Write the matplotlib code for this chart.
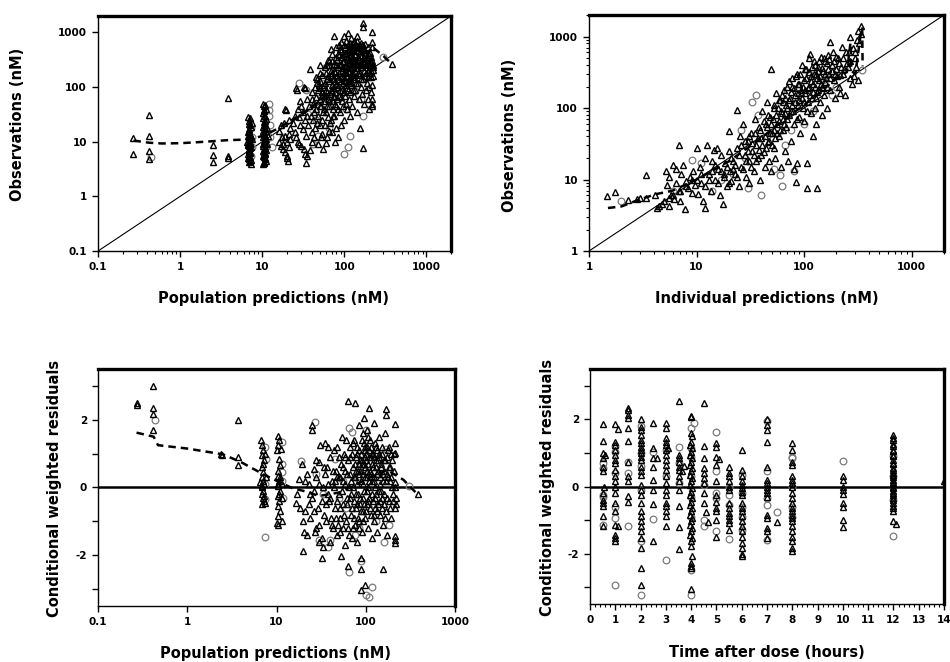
import numpy as np
import matplotlib
matplotlib.use('Agg')
import matplotlib.pyplot as plt
from matplotlib.ticker import FixedLocator, NullFormatter, LogLocator, MultipleLocator

plt.rcParams['font.family'] = ['DejaVu Sans']
plt.rcParams['font.weight'] = 'bold'

# ---------------- panel 1: observations vs population predictions ----------------
p1_tri = np.array([
    (0.27, 11.5), (0.27, 5.9), (0.42, 31), (0.42, 13), (0.42, 6.8), (0.42, 4.8),
    (2.5, 8.7), (2.5, 5.7), (2.5, 4.3), (3.8, 64), (3.8, 5.5), (3.85, 5.1),
    (6.8, 28), (7.2, 27), (7.0, 24), (6.9, 21), (7.3, 19), (7.0, 17), (6.8, 15), (7.4, 13),
    (7.0, 12), (6.9, 11), (7.2, 10), (7.0, 9.3), (6.8, 8.6), (7.3, 8), (7.0, 7.4), (6.9, 6.8),
    (7.2, 6.2), (7.0, 5.6), (6.8, 5.1), (7.3, 4.6), (7.0, 4.2), (7.4, 3.9), (7.6, 22), (7.5, 11), (6.6, 9.8),
    (7.1, 20), (6.9, 16), (7.2, 14), (6.7, 12.5), (7.1, 11.5), (6.9, 10.5), (7.2, 9.6), (6.8, 9),
    (7.0, 8.2), (7.2, 7.6), (6.9, 7), (7.1, 6.4), (6.8, 5.9), (7.2, 5.3), (6.9, 4.8), (7.1, 4.4),
    (10.3, 50), (10.8, 48), (10.5, 45), (11, 40), (10.2, 33), (10.6, 29), (11.2, 26), (10.4, 23),
    (10.9, 21), (10.2, 19), (10.7, 17), (11.1, 15.5), (10.4, 14), (10.8, 13), (10.3, 12), (11.0, 11),
    (10.5, 10), (10.9, 9.2), (10.3, 8.5), (10.7, 7.8), (11.2, 7.2), (10.4, 6.6), (10.8, 6), (10.3, 5.5),
    (10.7, 5), (11.0, 4.5), (10.5, 4.1), (10.2, 3.9), (11.5, 18), (11.8, 13), (11.6, 9),
    (10.6, 38), (10.4, 36), (10.9, 30), (10.3, 27), (10.7, 24), (10.5, 20), (10.9, 18), (10.3, 16),
    (10.6, 15), (10.8, 11.5), (10.4, 10.5), (10.7, 9.6), (10.3, 9), (10.9, 8), (10.5, 7.4),
    (10.2, 6.9), (10.8, 6.3), (10.4, 5.8), (10.6, 5.2), (10.9, 4.8), (10.4, 4.3),
    (16, 16), (17, 20), (17.5, 12), (18, 9), (18.5, 22), (19, 40), (19.5, 38), (18, 7.5), (19, 6.5),
    (20, 5.5), (20, 5), (20.5, 4.5), (21, 14), (21, 25), (22, 18), (22, 11), (17, 8.5), (19, 13),
    (20, 10), (21, 8), (16, 10),
    (24, 22), (25, 15), (26, 95), (26.5, 88), (27, 40), (27, 10), (28, 28), (29, 20), (30, 8.5),
    (30, 45), (31, 35), (32, 100), (32, 7.5), (33, 95), (33, 6), (34, 13), (34, 4), (35, 30),
    (35, 5.5), (25, 30), (29, 55), (31, 17), (33, 25), (35, 60), (26, 12), (28, 9),
    (38, 213), (38, 7), (40, 80), (40, 15), (40, 10), (42, 25), (42, 50), (44, 100), (45, 40),
    (45, 65), (47, 140), (48, 30), (48, 9), (50, 60), (50, 130), (50, 20), (52, 45), (52, 12),
    (54, 170), (54, 80), (55, 7.5), (55, 35), (44, 18), (46, 120), (37, 45), (39, 30), (43, 12),
    (53, 25), (51, 95), (49, 110), (36, 20),
    (58, 120), (58, 20), (60, 90), (60, 35), (60, 9.5), (61, 250), (62, 12), (63, 160), (64, 60),
    (65, 45), (66, 300), (67, 75), (68, 500), (68, 25), (70, 110), (70, 15), (71, 180), (72, 55),
    (73, 40), (74, 860), (74, 200), (75, 140), (76, 30), (77, 10), (78, 80), (79, 350), (80, 250),
    (80, 18), (57, 70), (59, 55), (62, 140), (64, 28), (66, 16), (69, 200), (72, 95), (76, 65),
    (78, 130), (80, 45),
    (82, 170), (83, 400), (84, 12), (85, 100), (86, 600), (87, 70), (88, 250), (89, 35), (90, 150),
    (90, 20), (92, 450), (93, 200), (94, 55), (95, 90), (96, 300), (97, 120), (98, 600), (99, 25),
    (100, 180), (100, 80), (102, 400), (103, 130), (104, 50), (105, 250), (106, 700), (107, 160),
    (108, 40), (109, 95), (110, 350), (111, 960), (112, 200), (113, 60), (114, 120), (115, 500),
    (116, 30), (117, 270), (118, 150), (119, 80), (120, 600), (120, 220),
    (122, 110), (124, 350), (125, 45), (127, 180), (128, 500), (130, 260), (131, 70), (133, 140),
    (135, 400), (136, 90), (138, 600), (140, 220), (141, 35), (143, 858), (144, 300), (146, 120),
    (148, 550), (150, 170), (152, 60), (154, 18), (155, 380), (157, 250), (158, 100), (160, 450),
    (162, 140), (165, 600), (166, 75), (169, 1520), (169, 1280), (169, 7.6), (170, 300), (172, 200),
    (175, 50), (178, 420), (180, 160), (183, 90), (185, 250), (188, 350), (190, 120), (193, 60),
    (195, 200), (198, 280), (200, 40), (202, 100), (205, 230), (210, 150), (215, 1000), (215, 675),
    (215, 545), (215, 60), (218, 50), (220, 45), (222, 230), (225, 210), (212, 80), (208, 300),
    (385, 264),
    (41, 60), (43, 35), (45, 150), (46, 22), (48, 90), (50, 45), (51, 180), (53, 70), (54, 14),
    (56, 110), (57, 40), (59, 230), (61, 80), (62, 45), (63, 320), (65, 130), (66, 55), (67, 22),
    (68, 170), (69, 90), (71, 400), (72, 30), (73, 140), (74, 70), (75, 260), (77, 190), (78, 50),
    (79, 110), (81, 320), (82, 60), (83, 230), (84, 140), (85, 40), (86, 380), (87, 180), (88, 90),
    (89, 500), (90, 270), (91, 130), (92, 65), (93, 350), (94, 160), (95, 220), (96, 45), (97, 420),
    (98, 180), (99, 130), (100, 300), (101, 550), (102, 240), (103, 70), (104, 190), (105, 420),
    (106, 110), (107, 330), (108, 230), (109, 160), (110, 600), (111, 280), (112, 90), (113, 450),
    (114, 190), (115, 310), (116, 140), (117, 650), (118, 230), (119, 360), (120, 120), (122, 480),
    (123, 260), (124, 170), (126, 620), (127, 340), (128, 90), (129, 230), (130, 450), (132, 150),
    (133, 300), (134, 550), (136, 200), (137, 380), (139, 120), (140, 480), (142, 260), (144, 700),
    (145, 180), (147, 350), (149, 450), (150, 250), (152, 600), (153, 320), (156, 180), (158, 520),
    (160, 280), (161, 650), (163, 380), (165, 230), (167, 480), (168, 140), (170, 580), (172, 350),
    (174, 260), (176, 500), (179, 300), (181, 620), (184, 180), (186, 420), (189, 260), (192, 340),
    (194, 550), (197, 150), (199, 380), (201, 260), (204, 420), (206, 180), (209, 280), (211, 350),
    (214, 200), (217, 300), (220, 110), (223, 160), (226, 250), (70, 300), (60, 180), (55, 100),
    (65, 250), (80, 550), (90, 680), (100, 850), (120, 800), (130, 700), (50, 250),
])
p1_circ = np.array([
    (0.44, 5.2), (7.3, 18), (7.5, 12), (7.6, 8), (7.4, 5.5), (12, 50), (12.2, 38), (12, 30),
    (12.4, 20), (12.6, 12), (13, 8), (18, 12), (28, 118), (34, 90), (40, 40), (45, 25), (52, 65),
    (60, 230), (65, 18), (70, 60), (82, 250), (88, 130), (95, 600), (100, 6), (110, 8), (118, 13),
    (125, 300), (135, 85), (150, 450), (160, 60), (170, 30), (300, 350), (180, 200), (105, 40),
    (75, 110), (55, 150), (48, 13), (42, 9),
])
p1_smooth_x = [0.27, 0.42, 0.6, 1, 2, 3.8, 7, 10.5, 15, 20, 30, 50, 80, 120, 170, 218, 302, 331, 380]
p1_smooth_y = [10.5, 9.6, 9.3, 9.4, 10, 10.7, 11, 13, 17, 22, 32, 55, 100, 170, 300, 546, 369, 320, 270]

# ---------------- panel 2: observations vs individual predictions ----------------
p2_tri = np.array([
    (1.46, 5.9), (1.76, 6.8), (2.3, 5.1), (2.8, 5.3), (3.0, 5.6), (3.4, 11.4), (3.4, 5.5), (4.1, 6),
    (4.3, 4), (4.5, 4.3), (4.8, 4.5), (5.0, 5.0), (5.2, 13), (5.3, 8.5), (5.5, 11), (5.6, 4.2),
    (5.8, 6), (6.0, 16), (6.2, 5.3), (6.4, 9), (6.5, 14), (6.8, 30), (6.8, 7), (7.0, 5), (7.2, 12),
    (7.5, 16), (7.8, 3.9), (8.0, 9.5), (8.3, 7.5), (8.6, 11), (9.0, 6.5), (9.3, 13), (9.6, 8.5),
    (10, 28), (10, 10), (10.3, 6.2), (10.7, 15), (11, 9), (11.5, 5), (12, 20), (12.1, 4), (12.6, 30),
    (13, 12), (13.5, 7), (14, 18), (14.5, 26), (15, 10), (15.5, 28), (16, 14), (16.5, 6), (17, 22),
    (17.7, 4.6), (18, 11), (18.5, 17), (19, 8), (20, 47), (20, 25), (20.5, 13), (21, 9.5), (22, 18),
    (23, 12), (23.7, 95), (24, 28), (25, 8), (25.5, 40), (26, 15), (27, 60), (28, 22), (29, 11),
    (30, 35), (30.5, 9), (31, 18), (32, 45), (33, 25), (34, 13), (35, 70), (36, 30), (37, 20),
    (38, 55), (39, 10), (40, 38), (41, 90), (42, 24), (43, 15), (44, 60), (45, 120), (46, 33),
    (47, 18), (48, 75), (49, 357), (49, 13), (50, 45), (52, 100), (53, 28), (54, 20), (55, 160),
    (56, 60), (58, 40), (60, 130), (61, 15), (62, 85), (64, 50), (65, 180), (66, 25), (68, 110),
    (70, 70), (71, 18), (72, 240), (74, 140), (75, 35), (76, 90), (78, 200), (80, 60), (80, 14),
    (82, 150), (84.5, 9.2), (85, 17), (86, 300), (87, 110), (89, 75), (90, 220), (92, 45), (94, 160),
    (95, 400), (97, 100), (99, 250), (100, 65), (102, 180), (104, 350), (106, 17), (106, 7.7),
    (108, 120), (110, 500), (112, 200), (114, 570), (115, 85), (117, 280), (119, 140), (120, 40),
    (122, 220), (124, 450), (126, 100), (128, 300), (130, 60), (131, 7.5), (133, 170), (135, 380),
    (137, 250), (140, 120), (143, 520), (146, 200), (148, 80), (150, 330), (153, 150), (156, 450),
    (160, 260), (163, 100), (166, 550), (170, 300), (175, 830), (175, 180), (180, 400), (185, 600),
    (190, 250), (195, 140), (200, 350), (205, 500), (210, 200), (215, 160), (220, 380), (225, 720),
    (230, 300), (240, 150), (250, 420), (260, 600), (270, 1000), (270, 260), (279, 214), (290, 280),
    (300, 600), (310, 900), (320, 250), (335, 1420), (340, 1100),
    (18, 12), (19, 15), (20, 9), (21, 20), (22, 14), (23, 16), (24, 11), (25, 22), (26, 30), (27, 14),
    (28, 35), (29, 18), (30, 25), (31, 40), (32, 15), (33, 32), (34, 22), (35, 45), (36, 18), (37, 38),
    (38, 26), (39, 50), (40, 22), (41, 30), (42, 65), (43, 40), (44, 28), (45, 55), (46, 80), (47, 35),
    (48, 45), (49, 60), (50, 30), (51, 70), (52, 50), (53, 110), (54, 38), (55, 80), (56, 45),
    (57, 100), (58, 65), (59, 130), (60, 50), (61, 90), (62, 150), (63, 70), (64, 120), (65, 60),
    (66, 85), (67, 140), (68, 55), (69, 200), (70, 100), (72, 130), (73, 80), (75, 170), (77, 110),
    (78, 260), (79, 90), (81, 190), (82, 120), (84, 280), (85, 70), (87, 160), (88, 220), (90, 130),
    (91, 300), (93, 180), (96, 140), (98, 200), (100, 120), (101, 350), (103, 160), (105, 260),
    (107, 90), (109, 190), (111, 320), (113, 150), (116, 240), (118, 380), (121, 170), (123, 300),
    (125, 200), (127, 400), (129, 140), (132, 260), (134, 330), (136, 180), (139, 450), (141, 280),
    (144, 220), (147, 360), (150, 190), (152, 500), (155, 300), (158, 230), (162, 420), (165, 200),
    (168, 350), (172, 480), (176, 260), (182, 330), (188, 450), (192, 300), (198, 520), (204, 280),
    (212, 430), (218, 290), (228, 500), (235, 350), (245, 600), (255, 380), (265, 450), (285, 700),
    (295, 500), (305, 380), (315, 1200), (325, 800), (12, 8), (13, 10), (14, 13), (15, 16), (16, 9),
    (17, 13), (11, 12), (9, 10), (8, 8), (7, 7), (6, 6), (5.5, 5.5),
])
p2_circ = np.array([
    (2.0, 5.0), (6, 7), (9, 19), (11, 17), (14, 7), (17, 10), (22, 12), (26, 50), (28, 20),
    (30, 7.7), (33, 120), (36, 150), (37, 80), (40, 6), (45, 40), (52, 14), (60, 11.5), (62, 8),
    (66, 30), (75, 50), (80, 13), (90, 120), (100, 60), (120, 90), (150, 250), (180, 150),
    (200, 200), (347, 340), (110, 300), (70, 180),
])
p2_smooth_x = [1.5, 2, 2.7, 4.1, 6, 10, 20, 40, 70, 100, 150, 200, 250, 270, 275, 300, 340, 347, 350]
p2_smooth_y = [4, 4.2, 5, 6.2, 7, 10, 18, 38, 75, 110, 180, 260, 320, 820, 330, 300, 1250, 1300, 385]

# ---------------- panel 3: CWRES vs population predictions ----------------
p3_tri = np.array([
    (0.27, 2.5), (0.27, 2.43), (0.41, 2.99), (0.41, 2.35), (0.41, 2.16), (0.41, 1.7), (2.4, 1.0),
    (2.45, 0.97), (3.7, 2.0), (3.7, 0.9), (3.7, 0.67),
    (6.7, 1.4), (6.9, 1.25), (7.0, 1.1), (6.8, 0.95), (7.2, 0.8), (6.9, 0.6), (7.1, 0.45), (6.8, 0.3),
    (7.0, 0.2), (7.3, 0.1), (6.6, 0.15), (6.9, 0.0), (7.1, -0.1), (6.8, -0.2), (7.0, -0.3), (7.2, -0.4),
    (6.9, -0.5), (7.4, -0.45), (7.6, 0.3), (7.5, 1.0), (7.0, 0.7), (6.8, 0.05), (7.2, -0.25),
    (10.3, 1.53), (10.6, 1.4), (10.4, 1.25), (10.2, 1.1), (10.8, 0.65), (10.5, 0.5), (10.3, 0.35),
    (10.7, 0.2), (10.4, 0.05), (10.9, -0.1), (10.3, -0.25), (10.6, -0.4), (10.4, -0.55), (10.8, -0.7),
    (10.2, -1.05), (10.5, -1.1), (11.5, -1.0), (11.2, 1.15), (11.0, 0.3), (11.4, -0.3), (11.6, 0.1),
    (10.6, 0.85), (10.4, -0.85), (10.7, -0.2), (10.5, 0.1),
    (16.7, -0.46), (17, -0.2), (18, 0.25), (18.5, -0.6), (19.7, -1.88), (19.5, 0.7), (20, -1.0),
    (20.5, -1.3), (21, 0.2), (21, -0.7), (22, -1.4), (23, 0.1), (24, -0.9), (24.9, 1.7), (24.9, 1.85),
    (25, -0.3), (26, 0.55), (27, -1.3), (28, 0.3), (29, -0.6), (30, 0.75), (30, -1.1), (31, 1.25),
    (32, -2.08), (32, -1.5), (33, 0.0), (34, -0.8), (35, 1.3), (35, 0.4), (33, -1.75), (30, -1.6),
    (28, -1.2), (26, -0.1), (23, -0.5),
    (36, -1.0), (37, 0.6), (38, 1.2), (39, -0.4), (40, -1.6), (40, 0.9), (42, 0.2), (43, -1.2),
    (44, 1.1), (45, -0.6), (46, 0.5), (47, -1.4), (48, 1.2), (50, -0.2), (50, 0.9), (51, -0.9),
    (52, 0.3), (53, -2.03), (54, 1.5), (55, -1.2), (55, 0.6), (56, -0.5), (57, 1.0), (58, -1.7),
    (59, 0.1), (60, -1.0), (60, 1.4), (38, -0.2), (41, -0.9), (44, 0.0), (47, 0.3), (49, -1.1),
    (52, -0.6), (58, 0.5),
    (62, -0.3), (63, 2.55), (63, -2.32), (64, 0.8), (65, -1.4), (66, 1.2), (67, 0.4), (68, -0.8),
    (70, 1.0), (70, -1.5), (71, 0.0), (72, 0.6), (73, -0.4), (74, 1.4), (75, 2.5), (75, -1.1),
    (76, 0.3), (77, -0.6), (78, 0.9), (79, -1.6), (80, 1.2), (80, 0.1), (82, -0.2), (83, 1.86),
    (84, 0.7), (85, -1.0), (86, 0.5), (87, -0.5), (88, 1.0), (88.7, -2.08), (88.7, -2.4),
    (88.7, -3.04), (89, 0.2), (90, -1.3), (91, 0.8), (92, 1.6), (93, -0.7), (94, 0.4), (95, 1.3),
    (96, 2.06), (96, -0.1), (97, 0.9), (98, -0.9), (99, -2.89), (99, 0.6), (100, 1.0), (65, 0.0),
    (69, -0.2), (72, -1.2), (78, 0.5), (81, -0.9), (85, 0.4), (90, 0.7), (94, -0.3), (98, 1.2),
    (102, 0.3), (103, -0.5), (104, 1.7), (105, -1.2), (106, 0.7), (107, 0.0), (108, 2.35), (108, 1.1),
    (110, -0.3), (111, 0.5), (112, 1.4), (113, -0.8), (115, 0.9), (116, -1.5), (117, 0.2), (118, 1.0),
    (120, -0.4), (121, 0.6), (122, 1.9), (124, -1.0), (125, 0.3), (127, 1.3), (128, -0.6), (130, 0.8),
    (131, -0.2), (133, 1.1), (135, -1.3), (136, 0.5), (138, -0.5), (140, 0.9), (141, 1.5), (143, 0.1),
    (145, -0.8), (147, 0.6), (150, -0.3), (152, 1.2), (154, -2.4), (155, 0.4), (157, -1.1), (160, 0.8),
    (162, -0.5), (165, 1.6), (167, 0.2), (169, 2.31), (169, 2.14), (170, -0.7), (173, 0.9),
    (175, -1.4), (178, 0.3), (180, 1.2), (183, -0.4), (185, 0.6), (190, -0.9), (193, 1.0), (195, 0.0),
    (200, -0.2), (205, 0.5), (210, -0.6), (213, 1.87), (213, 1.3), (213, 1.03), (213, -1.44),
    (213, -1.64), (213, -1.55), (215, 0.15), (218, -0.3), (220, -0.5), (381, -0.2), (104, -0.1),
    (126, 0.0), (148, -0.1), (188, 0.2),
    (22, 0.4), (24, -0.2), (26, -0.7), (28, 0.8), (30, 0.1), (32, -0.4), (34, 0.6), (36, -0.5),
    (38, 0.1), (40, -0.3), (42, -1.1), (43, 0.5), (45, 0.2), (46, -0.9), (48, -0.4), (50, 0.3),
    (51, -1.3), (53, 0.7), (54, -0.1), (56, 0.2), (57, -0.8), (59, 0.9), (61, -0.5), (62, 0.4),
    (64, -1.2), (66, -0.3), (67, 0.9), (68, 0.2), (70, -0.6), (71, 1.3), (73, 0.3), (74, -0.9),
    (76, 0.7), (77, -0.2), (79, 1.0), (80, -0.5), (82, 0.5), (83, -1.2), (84, 1.1), (86, -0.3),
    (87, 0.8), (89, -0.7), (90, 1.4), (92, 0.1), (93, -1.0), (95, 0.7), (96, -0.5), (97, 1.1),
    (99, 0.3), (100, -0.7), (101, 0.8), (103, 1.2), (104, 0.5), (106, -0.4), (107, 1.5), (109, 0.2),
    (110, 0.9), (112, -0.6), (113, 0.4), (115, 1.2), (117, -0.2), (118, 0.7), (120, 1.0), (122, -0.8),
    (123, 0.2), (125, 0.9), (127, -0.3), (129, 0.6), (131, 1.2), (133, -0.7), (134, 0.4), (137, 0.8),
    (139, -0.1), (142, 1.0), (144, -0.4), (146, 0.3), (149, 0.7), (151, -0.6), (153, 1.0), (156, 0.2),
    (158, -0.2), (161, 0.5), (164, -0.9), (166, 0.8), (171, 0.4), (174, -0.3), (177, 1.1), (181, 0.6),
    (186, -0.6), (191, 0.3), (196, 0.8), (202, -0.4), (207, 1.0), (212, 0.0),
])
p3_circ = np.array([
    (0.44, 2.0), (7.5, 1.2), (7.6, 0.85), (7.4, 0.1), (7.5, -0.35), (7.5, -1.46), (11.5, 1.35),
    (11.6, 0.7), (11.4, 0.45), (11.5, 0.2), (11.7, -0.3), (19, 0.78), (27, 1.94), (28, 0.4),
    (30, -1.55), (33, -0.2), (38, -1.75), (40, -1.55), (45, 0.85), (50, -0.3), (55, 0.2), (60, -0.6),
    (65, 1.76), (65, -2.5), (70, 1.65), (75, -1.4), (80, 0.3), (85, -1.2), (88.7, -2.18), (95, 0.5),
    (101, -3.18), (110, -3.24), (117, -2.93), (125, -0.5), (140, 0.4), (160, -1.6), (170, 1.15),
    (180, -1.1), (306, 0.03), (100, 1.7), (130, -1.0),
])
p3_smooth_x = [0.27, 0.42, 0.47, 1, 2.5, 4, 7, 10, 15, 20, 30, 50, 80, 120, 172, 263, 380]
p3_smooth_y = [1.62, 1.5, 1.25, 1.15, 0.98, 0.75, 0.4, 0.2, -0.02, -0.1, -0.25, -0.15, 0.1, 0.35, 0.52, 0.23, -0.2]

# ---------------- panel 4: CWRES vs time after dose ----------------
p4_tri = np.array([
    (0.5, 1.85), (0.5, 1.36), (0.5, 0.99), (0.5, 0.84), (0.5, 0.59), (0.5, 0.45), (0.5, -0.2),
    (0.5, -0.4), (0.5, -0.5), (0.5, -0.59), (0.5, -0.89), (0.5, -1.19), (0.6, 0.93), (0.55, 0.0),
    (1.0, 1.85), (1.1, 1.7), (1.0, 1.34), (1.0, 1.24), (1.0, 1.09), (1.0, 0.94), (1.0, 0.79), (1.0, 0.69),
    (1.0, 0.5), (1.0, 0.3), (1.0, 0.15), (1.0, 0.0), (1.0, -0.2), (1.0, -0.5), (1.0, -0.74),
    (1.1, -1.19), (1.0, -1.14), (1.0, -1.44), (1.0, -1.53), (1.0, -1.63),
    (1.5, 2.35), (1.5, 2.28), (1.5, 2.13), (1.5, 2.03), (1.5, 1.73), (1.5, 1.36), (1.5, 0.74),
    (1.5, 0.32), (1.5, 0.15), (1.5, -0.28), (1.5, -0.45),
    (2.0, 2.0), (2.0, 1.78), (2.0, 1.68), (2.0, 1.53), (2.0, 1.39), (2.0, 1.29), (2.0, 1.19),
    (2.0, 1.09), (2.0, 0.99), (2.0, 0.89), (2.0, 0.79), (2.0, 0.59), (2.0, 0.45), (2.0, 0.35),
    (2.0, 0.05), (2.0, -0.1), (2.0, -0.25), (2.0, -0.5), (2.0, -0.74), (2.0, -0.89), (2.0, -1.04),
    (2.0, -1.19), (2.0, -1.34), (2.0, -1.53), (2.0, -1.83), (2.0, -2.43), (2.0, -2.92),
    (2.5, 1.88), (2.5, 1.14), (2.5, 0.84), (2.5, 0.59), (2.5, 0.2), (2.5, -0.1), (2.5, -0.51),
    (2.5, -1.63), (2.65, 0.86),
    (3.0, 1.88), (3.0, 1.75), (3.0, 1.44), (3.0, 1.34), (3.0, 1.24), (3.0, 1.09), (3.0, 0.94),
    (3.0, 0.79), (3.0, 0.64), (3.0, 0.5), (3.0, 0.3), (3.0, 0.1), (3.0, -0.1), (3.0, -0.25),
    (3.0, -0.48), (3.0, -0.59), (3.0, -0.74), (3.0, -0.89), (3.0, -1.19), (3.1, 1.14),
    (3.5, 2.55), (3.5, 0.94), (3.5, 0.84), (3.5, 0.74), (3.5, 0.59), (3.5, 0.5), (3.5, 0.3),
    (3.5, 0.15), (3.5, -0.1), (3.5, -0.57), (3.5, -1.21), (3.5, -1.85), (3.7, 0.6), (3.65, 0.45),
    (4.0, 2.1), (3.98, 2.06), (4.0, 1.58), (4.02, 1.49), (4.0, 1.34), (3.97, 1.24), (4.03, 1.14),
    (4.0, 1.04), (3.96, 0.94), (4.04, 0.84), (4.0, 0.74), (3.97, 0.64), (4.03, 0.54), (4.0, 0.45),
    (3.96, 0.35), (4.04, 0.25), (4.0, 0.15), (3.97, 0.05), (4.03, -0.05), (4.0, -0.15), (3.96, -0.25),
    (4.04, -0.35), (4.0, -0.45), (3.97, -0.54), (4.03, -0.64), (4.0, -0.74), (3.96, -0.84),
    (4.04, -0.94), (4.0, -1.04), (3.97, -1.14), (4.03, -1.24), (4.0, -1.34), (3.96, -1.44),
    (4.04, -1.53), (4.0, -1.63), (4.0, -1.78), (4.02, -2.08), (4.0, -2.28), (3.98, -2.38),
    (4.0, -2.43), (4.0, -3.05),
    (4.5, 2.48), (4.5, 1.21), (4.5, 0.84), (4.5, 0.54), (4.5, 0.4), (4.5, 0.25), (4.5, 0.1),
    (4.5, -0.2), (4.5, -0.5), (4.6, -0.77), (4.65, -1.07),
    (5.0, 1.29), (5.0, 1.19), (5.0, 0.89), (5.0, 0.64), (5.0, 0.15), (5.0, -0.25), (5.0, -0.45),
    (5.0, -0.64), (5.0, -0.74), (5.0, -0.99), (5.0, -1.49), (5.1, 0.81),
    (5.5, 0.59), (5.5, 0.4), (5.5, 0.3), (5.5, 0.15), (5.5, 0.0), (5.5, -0.1), (5.5, -0.5),
    (5.5, -0.64), (5.5, -0.79), (5.5, -0.89), (5.5, -0.99), (5.5, -1.09), (5.5, -1.29),
    (6.0, 1.09), (6.0, 0.5), (6.0, 0.3), (6.0, 0.15), (6.0, 0.05), (6.0, -0.05), (6.0, -0.15),
    (6.0, -0.25), (6.0, -0.5), (6.0, -0.64), (6.0, -0.74), (6.0, -0.89), (6.0, -1.04), (6.0, -1.19),
    (6.0, -1.34), (6.0, -1.49), (6.0, -1.68), (6.0, -1.83), (6.0, -2.0), (6.0, -2.08),
    (7.0, 2.0), (7.0, 1.83), (7.0, 1.68), (7.0, 1.34), (7.0, 0.59), (7.0, 0.2), (7.0, 0.1),
    (7.0, 0.0), (7.0, -0.1), (7.0, -0.2), (7.0, -0.3), (7.0, -0.84), (7.0, -0.94), (7.0, -1.24),
    (7.0, -1.34), (7.0, -1.53), (7.4, -1.06),
    (8.0, 1.29), (8.0, 1.09), (8.0, 0.74), (8.0, 0.64), (8.0, 0.3), (8.0, 0.2), (8.0, 0.1),
    (8.0, 0.0), (8.0, -0.2), (8.0, -0.35), (8.0, -0.5), (8.0, -0.64), (8.0, -0.74), (8.0, -0.84),
    (8.0, -0.94), (8.0, -1.04), (8.0, -1.19), (8.0, -1.34), (8.0, -1.49), (8.0, -1.63), (8.0, -1.83),
    (8.0, -1.93),
    (10.0, 0.3), (10.0, 0.2), (10.0, 0.0), (10.0, -0.1), (10.0, -0.22), (10.0, -0.5), (10.0, -0.6),
    (10.0, -0.99), (10.0, -1.22),
    (12.0, 1.53), (12.0, 1.44), (12.0, 1.38), (12.0, 1.27), (12.0, 1.2), (12.0, 1.1), (12.0, 1.05),
    (12.0, 0.94), (12.0, 0.9), (12.0, 0.78), (12.0, 0.7), (12.0, 0.66), (12.0, 0.55), (12.0, 0.5),
    (12.0, 0.4), (12.0, 0.35), (12.0, 0.27), (12.0, 0.2), (12.0, 0.12), (12.0, 0.06), (12.0, 0.0),
    (12.0, -0.05), (12.0, -0.13), (12.0, -0.2), (12.0, -0.26), (12.0, -0.35), (12.0, -0.4),
    (12.0, -0.5), (12.0, -0.58), (12.0, -0.65), (12.0, -0.74), (12.0, -1.04), (12.1, -1.11),
    (14.0, 0.17),
])
p4_circ = np.array([
    (0.5, -0.25), (0.5, -1.14), (0.5, 0.7), (0.5, 0.55), (0.5, -0.3),
    (1.0, -2.94), (1.0, -0.94), (1.0, -0.6), (1.0, 1.04), (1.0, 0.4), (1.0, 1.2),
    (1.5, -1.19), (1.5, 0.4), (1.5, 0.72),
    (2.0, -3.24), (2.0, -1.63), (2.0, 1.8), (2.0, 0.6), (2.0, -0.1), (2.0, 1.0),
    (2.5, 1.04), (2.5, -0.96), (3.0, -2.18), (3.0, 0.3), (3.0, 1.09),
    (3.5, 1.19), (3.5, 0.7), (3.5, 0.1),
    (4.0, -3.22), (4.0, -2.5), (4.0, 1.75), (4.1, 1.88), (4.0, 1.14), (4.0, 0.89), (4.0, 0.3),
    (4.0, -0.3), (4.0, -0.9),
    (4.5, -0.99), (4.5, -1.19), (4.5, 0.05),
    (5.0, 1.63), (5.0, 0.45), (5.0, -0.2), (5.0, -0.35), (5.0, -1.34),
    (5.5, 0.0), (5.5, -0.25), (5.5, -0.55), (5.5, -1.57),
    (6.0, 0.35), (6.0, -0.2), (6.0, -0.6), (6.0, -0.9), (6.0, -1.3),
    (7.0, 1.96), (7.0, 0.45), (7.0, -0.35), (7.0, -0.54), (7.0, -1.58), (7.4, -0.77),
    (8.0, 0.89), (8.0, 0.84), (8.0, 0.0), (8.0, -0.6), (8.0, -0.9),
    (10.0, 0.77), (12.0, -1.47), (12.0, 0.9), (12.0, 0.3), (12.0, -0.4),
])

x_labels = ['Population predictions (nM)', 'Individual predictions (nM)',
            'Population predictions (nM)', 'Time after dose (hours)']
y_labels = ['Observations (nM)', 'Observations (nM)',
            'Conditional weighted residuals', 'Conditional weighted residuals']

fig = plt.figure(figsize=(9.5, 6.62), dpi=100)
ax1 = fig.add_axes([0.1032, 0.6208, 0.3716, 0.355])
ax2 = fig.add_axes([0.62, 0.6208, 0.3737, 0.3565])
ax3 = fig.add_axes([0.1032, 0.0846, 0.3758, 0.358])
ax4 = fig.add_axes([0.6211, 0.0876, 0.3726, 0.355])


def draw_points(ax, tri, circ):
    ax.plot(circ[:, 0], circ[:, 1], 'o', ms=4.8, mfc='none', mec='#7a7a7a', mew=0.9, zorder=3)
    ax.plot(tri[:, 0], tri[:, 1], '^', ms=5, mfc='none', mec='black', mew=1.0, zorder=4)


def style(ax):
    for s in ['left', 'bottom']:
        ax.spines[s].set_linewidth(1.0)
    for s in ['top', 'right']:
        ax.spines[s].set_linewidth(2.4)
    ax.tick_params(which='major', direction='out', length=4, width=1, labelsize=7.5, pad=4)
    ax.tick_params(which='minor', direction='out', length=2.5, width=0.8)
    for lab in ax.get_xticklabels() + ax.get_yticklabels():
        lab.set_fontweight('bold')


# panel 1
draw_points(ax1, p1_tri, p1_circ)
ax1.plot([0.1, 2000], [0.1, 2000], color='black', lw=0.8, zorder=2)
ax1.plot(p1_smooth_x, p1_smooth_y, color='black', lw=1.8, ls=(0, (3, 2)), zorder=3.5)
ax1.set_xscale('log')
ax1.set_yscale('log')
ax1.set_xlim(0.1, 2000)
ax1.set_ylim(0.1, 2000)
ax1.xaxis.set_major_locator(FixedLocator([0.1, 1, 10, 100, 1000]))
ax1.xaxis.set_minor_locator(LogLocator(base=10, subs=np.arange(2, 10)))
ax1.yaxis.set_major_locator(FixedLocator([0.1, 1, 10, 100, 1000]))
ax1.yaxis.set_minor_locator(FixedLocator([]))
ax1.set_xticklabels(['0.1', '1', '10', '100', '1000'])
ax1.set_yticklabels(['0.1', '1', '10', '100', '1000'])
ax1.xaxis.set_minor_formatter(NullFormatter())

# panel 2
draw_points(ax2, p2_tri, p2_circ)
ax2.plot([1, 2000], [1, 2000], color='black', lw=0.8, zorder=2)
ax2.plot(p2_smooth_x, p2_smooth_y, color='black', lw=1.8, ls=(0, (3, 2)), zorder=3.5)
ax2.set_xscale('log')
ax2.set_yscale('log')
ax2.set_xlim(1, 2000)
ax2.set_ylim(1, 2000)
ax2.xaxis.set_major_locator(FixedLocator([1, 10, 100, 1000]))
ax2.yaxis.set_major_locator(FixedLocator([1, 10, 100, 1000]))
ax2.xaxis.set_minor_locator(LogLocator(base=10, subs=np.arange(2, 10)))
ax2.yaxis.set_minor_locator(LogLocator(base=10, subs=np.arange(2, 10)))
ax2.set_xticklabels(['1', '10', '100', '1000'])
ax2.set_yticklabels(['1', '10', '100', '1000'])
ax2.xaxis.set_minor_formatter(NullFormatter())
ax2.yaxis.set_minor_formatter(NullFormatter())

# panel 3
draw_points(ax3, p3_tri, p3_circ)
ax3.axhline(0, color='black', lw=1.8, zorder=2)
ax3.plot(p3_smooth_x, p3_smooth_y, color='black', lw=1.8, ls=(0, (3, 2)), zorder=3.5)
ax3.set_xscale('log')
ax3.set_xlim(0.1, 1000)
ax3.set_ylim(-3.5, 3.5)
ax3.xaxis.set_major_locator(FixedLocator([0.1, 1, 10, 100, 1000]))
ax3.xaxis.set_minor_locator(FixedLocator([]))
ax3.set_xticklabels(['0.1', '1', '10', '100', '1000'])
ax3.yaxis.set_major_locator(FixedLocator([-2, 0, 2]))
ax3.yaxis.set_minor_locator(FixedLocator([-3, -1, 1, 3]))
ax3.set_yticklabels(['-2', '0', '2'])

# panel 4
draw_points(ax4, p4_tri, p4_circ)
ax4.axhline(0, color='black', lw=1.8, zorder=2)
ax4.set_xlim(0, 14)
ax4.set_ylim(-3.5, 3.5)
ax4.xaxis.set_major_locator(MultipleLocator(1))
ax4.xaxis.set_minor_locator(MultipleLocator(0.2))
ax4.yaxis.set_major_locator(FixedLocator([-2, 0, 2]))
ax4.yaxis.set_minor_locator(FixedLocator([-3, -1, 1, 3]))
ax4.set_yticklabels(['-2', '0', '2'])

for ax in [ax1, ax2, ax3, ax4]:
    style(ax)
ax3.tick_params(which='minor', length=4, width=1)
ax4.tick_params(axis='y', which='minor', length=4, width=1)

label_coords = [(-0.207, 0.538, 0.496, -0.17), (-0.203, 0.49, 0.5, -0.17),
                (-0.10, 0.494, 0.498, -0.169), (-0.099, 0.494, 0.5, -0.174)]
for ax, xl, yl, (yx, yy, xx, xy) in zip([ax1, ax2, ax3, ax4], x_labels, y_labels, label_coords):
    ax.set_xlabel(xl, fontsize=10.5, fontweight='bold')
    ax.set_ylabel(yl, fontsize=10.5, fontweight='bold')
    ax.yaxis.set_label_coords(yx, yy)
    ax.xaxis.set_label_coords(xx, xy)

plt.savefig('out.png', dpi=100)
